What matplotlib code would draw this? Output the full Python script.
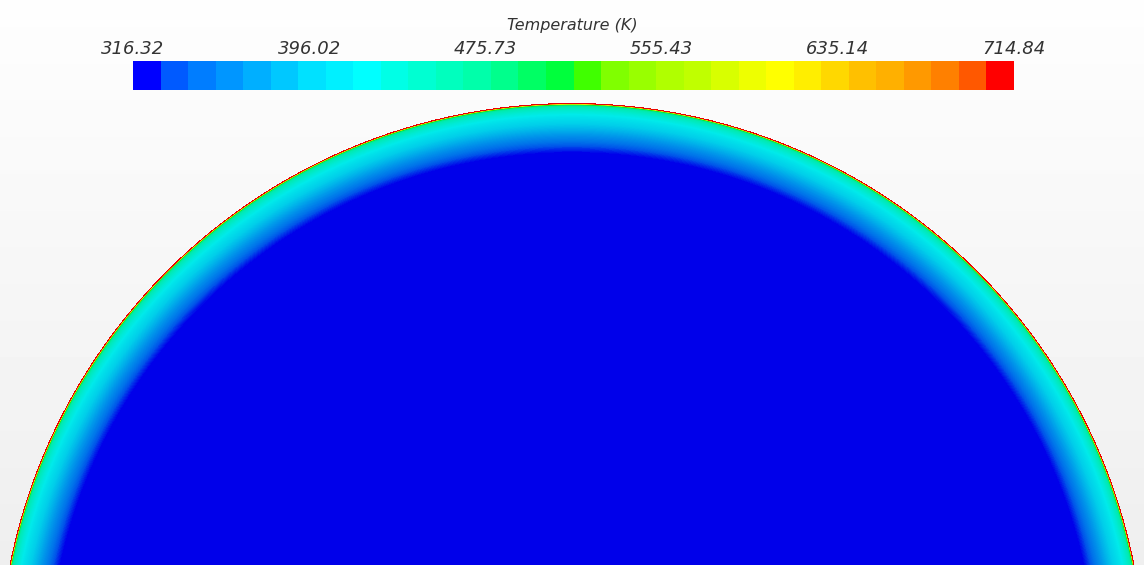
import numpy as np
import matplotlib
matplotlib.use("Agg")
import matplotlib.pyplot as plt
from matplotlib.colors import LinearSegmentedColormap, ListedColormap, BoundaryNorm

# colour bar range and tick labels
t_min = 316.32
t_max = 714.84
tick_values = [316.32, 396.02, 475.73, 555.43, 635.14, 714.84]
n_bands = 32

# temperature profile: depth below the surface (px) vs T (K)
depth_px = [0.0, 1.0, 1.6, 2.6, 4.0, 8.0, 14.0, 20.0, 26.0, 32.0, 38.0, 44.0, 50.0]
temp_k = [714.84, 714.84, 540.0, 480.0, 455.0, 432.0, 412.0, 396.0, 380.0, 362.0, 345.0, 328.0, 316.32]

# the 32 band colours of the scale
band_colors = [
    "#0000ff", "#005aff", "#007dff", "#0096ff", "#00afff", "#00c8ff", "#00e1ff", "#00f0ff",
    "#00ffff", "#00ffe6", "#00ffd2", "#00ffbe", "#00ffaa", "#00ff8c", "#00ff64", "#00ff3c",
    "#40ff00", "#80ff00", "#99ff00", "#b0ff00", "#c0ff00", "#d8ff00", "#eeff00", "#ffff00",
    "#ffee00", "#ffd800", "#ffc000", "#ffb000", "#ff9900", "#ff8000", "#ff5800", "#ff0000",
]

W, H = 1144, 565
cx, cy, R = 572.0, 676.4, 573.4  # circle in pixel coords

fig = plt.figure(figsize=(W / 100, H / 100), dpi=100)
ax = fig.add_axes([0, 0, 1, 1])
ax.set_xlim(0, W)
ax.set_ylim(H, 0)
ax.axis("off")

# background: light vertical gradient
bg = np.linspace(0.995, 0.935, H)[:, None] * np.ones((1, W))
ax.imshow(bg, cmap="gray", vmin=0, vmax=1, extent=(0, W, H, 0), aspect="auto")

# temperature field
xs = np.arange(W) + 0.5
ys = np.arange(H) + 0.5
X, Y = np.meshgrid(xs, ys)
depth = R - np.hypot(X - cx, Y - cy)
field = np.interp(depth, depth_px, temp_k)
field = np.ma.masked_where(depth < 0, field)

shade = np.array([matplotlib.colors.to_rgb(c) for c in band_colors]) * 0.92
smooth_cmap = LinearSegmentedColormap.from_list("field", shade)
ax.imshow(field, cmap=smooth_cmap, vmin=t_min, vmax=t_max, extent=(0, W, H, 0),
          aspect="auto", interpolation="nearest")

# colour bar
cax = fig.add_axes([133 / W, 1 - 90 / H, 881 / W, 29 / H])
bounds = np.linspace(t_min, t_max, n_bands + 1)
cmap = ListedColormap(band_colors)
norm = BoundaryNorm(bounds, cmap.N)
sm = plt.cm.ScalarMappable(norm=norm, cmap=cmap)
cb = fig.colorbar(sm, cax=cax, orientation="horizontal", ticks=tick_values)
cb.outline.set_visible(False)
cax.minorticks_off()
cax.xaxis.set_ticks_position("top")
cax.set_xticklabels([f"{v:.2f}" for v in tick_values], fontsize=13, style="italic", color="#333333")
cax.tick_params(axis="x", which="both", length=0, pad=2)

fig.text(572 / W, 1 - 30 / H, "Temperature (K)", ha="center", va="baseline",
         fontsize=11.5, style="italic", color="#333333")

fig.savefig("out.png", dpi=100)
